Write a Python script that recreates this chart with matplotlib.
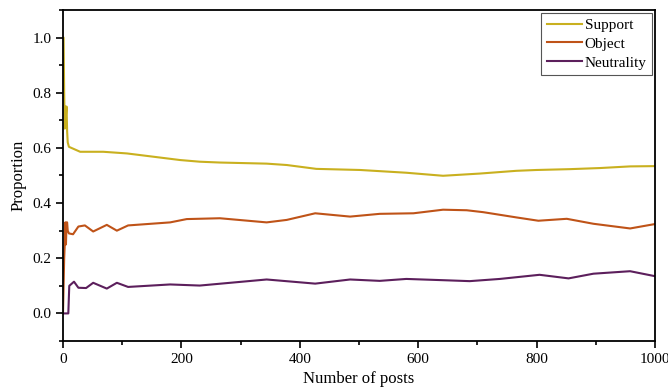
import matplotlib
matplotlib.use('Agg')
import matplotlib.pyplot as plt
from matplotlib.ticker import MultipleLocator

plt.rcParams['font.family'] = ['Liberation Serif', 'DejaVu Serif']

# Data
support_x = [0, 1, 2, 3, 4, 5, 6, 7, 8, 10, 29, 68, 108, 198, 231, 265, 344, 378, 428,
             502, 580, 642, 704, 766, 800, 856, 907, 958, 1000]
support_y = [1.0, 1.0, 0.8, 0.67, 0.75, 0.72, 0.75, 0.66, 0.62, 0.604, 0.586, 0.586, 0.58,
             0.556, 0.55, 0.547, 0.543, 0.538, 0.524, 0.52, 0.51, 0.499, 0.507, 0.517,
             0.52, 0.523, 0.527, 0.533, 0.534]

object_x = [0, 2, 3, 4, 5, 6, 7, 8, 10, 17, 26, 37, 51, 74, 91, 110, 181, 209, 265, 344,
            378, 426, 485, 535, 592, 642, 682, 710, 766, 803, 851, 896, 958, 1000]
object_y = [0.0, 0.2, 0.25, 0.33, 0.25, 0.33, 0.33, 0.3, 0.29, 0.287, 0.315, 0.319, 0.297,
            0.321, 0.3, 0.319, 0.33, 0.342, 0.345, 0.33, 0.339, 0.363, 0.351, 0.361, 0.363,
            0.376, 0.374, 0.367, 0.348, 0.336, 0.343, 0.325, 0.308, 0.324]

neutral_x = [0, 9, 10.6, 18.6, 26, 39, 51, 74, 91, 110, 181, 231, 344, 426, 485, 535, 580,
             648, 687, 738, 805, 854, 896, 958, 1000]
neutral_y = [0.0, 0.0, 0.1, 0.115, 0.093, 0.092, 0.111, 0.09, 0.111, 0.096, 0.105, 0.101,
             0.123, 0.108, 0.123, 0.118, 0.125, 0.12, 0.117, 0.125, 0.14, 0.127, 0.144,
             0.153, 0.135]

fig = plt.figure(figsize=(6.68, 3.89), dpi=100)
ax = fig.add_axes([0.0943, 0.1234, 0.8862, 0.8509])

ax.plot(support_x, support_y, color='#c9b01f', lw=1.5, label='Support')
ax.plot(object_x, object_y, color='#bf5318', lw=1.5, label='Object')
ax.plot(neutral_x, neutral_y, color='#5c1f5c', lw=1.5, label='Neutrality')

ax.set_xlim(0, 1000)
ax.set_ylim(-0.1, 1.1)
ax.xaxis.set_major_locator(MultipleLocator(200))
ax.xaxis.set_minor_locator(MultipleLocator(100))
ax.yaxis.set_major_locator(MultipleLocator(0.2))
ax.yaxis.set_minor_locator(MultipleLocator(0.1))
ax.yaxis.set_major_formatter(plt.FormatStrFormatter('%.1f'))
ax.tick_params(which='both', direction='out', labelsize=11, width=1.2)
ax.tick_params(which='major', length=5)
ax.tick_params(which='minor', length=3)
for s in ax.spines.values():
    s.set_linewidth(1.3)

ax.set_xlabel('Number of posts', fontsize=12, labelpad=4)
ax.set_ylabel('Proportion', fontsize=12, labelpad=4)

leg = ax.legend(loc='upper right', fontsize=11, fancybox=False, edgecolor='#555555',
                handlelength=2.3, handletextpad=0.2, borderpad=0.35, labelspacing=0.33,
                borderaxespad=0.2, framealpha=1)
leg.get_frame().set_linewidth(0.8)

fig.savefig('out.png', dpi=100)
